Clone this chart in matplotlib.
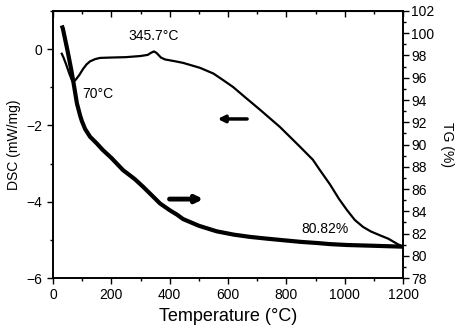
import numpy as np
import matplotlib
matplotlib.use('Agg')
import matplotlib.pyplot as plt
from matplotlib.ticker import MultipleLocator

plt.rcParams['font.family'] = ['Liberation Sans', 'DejaVu Sans']

# DSC curve (left axis)
dsc_t = [30, 36, 45, 55, 65, 70, 78, 90, 103, 115, 127, 145, 161, 200, 250, 300, 325,
         335, 346, 355, 370, 384, 420, 446, 504, 550, 583, 617, 660, 710, 778, 847,
         891, 915, 950, 980, 1008, 1035, 1063, 1090, 1121, 1150, 1179, 1200]
dsc_v = [-0.12, -0.22, -0.40, -0.62, -0.82, -0.86, -0.80, -0.68, -0.52, -0.40, -0.32,
         -0.26, -0.23, -0.22, -0.21, -0.18, -0.15, -0.10, -0.06, -0.10, -0.22, -0.27,
         -0.32, -0.36, -0.49, -0.64, -0.81, -0.99, -1.27, -1.59, -2.04, -2.56, -2.90,
         -3.17, -3.55, -3.92, -4.22, -4.48, -4.66, -4.78, -4.88, -4.97, -5.10, -5.18]

# TG curve (right axis)
tg_t = [30, 34, 50, 62, 70, 82, 93, 99, 110, 127, 150, 171, 200, 240, 280, 309, 340,
        367, 400, 425, 446, 500, 561, 620, 675, 730, 789, 850, 905, 950, 1008, 1100, 1200]
tg_v = [100.7, 100.4, 98.4, 96.8, 95.6, 93.7, 92.6, 92.1, 91.4, 90.7, 90.1, 89.5, 88.8,
        87.7, 86.9, 86.2, 85.4, 84.7, 84.1, 83.7, 83.3, 82.7, 82.2, 81.9, 81.7, 81.55,
        81.4, 81.25, 81.15, 81.05, 80.97, 80.9, 80.82]

fig = plt.figure(figsize=(4.67, 3.33), dpi=100)
ax = fig.add_axes([0.1135, 0.165, 0.7495, 0.802])
ax2 = ax.twinx()

ax.plot(dsc_t, dsc_v, color='black', lw=1.6)
ax2.plot(tg_t, tg_v, color='black', lw=3.0, solid_capstyle='butt')

ax.set_xlim(0, 1200)
ax.set_ylim(-6, 1)
ax2.set_ylim(78, 102)

ax.xaxis.set_major_locator(MultipleLocator(200))
ax.xaxis.set_minor_locator(MultipleLocator(100))
ax.yaxis.set_major_locator(MultipleLocator(2))
ax.yaxis.set_minor_locator(MultipleLocator(1))
ax2.yaxis.set_major_locator(MultipleLocator(2))
ax2.yaxis.set_minor_locator(MultipleLocator(1))

ax.tick_params(which='major', direction='out', length=4, width=1, labelsize=10)
ax.tick_params(which='minor', direction='out', length=2.5, width=1)
ax2.tick_params(which='major', direction='out', length=4, width=1, labelsize=10, pad=2)
ax2.tick_params(which='minor', direction='out', length=2.5, width=1)

top = ax.secondary_xaxis('top')
top.xaxis.set_major_locator(MultipleLocator(200))
top.xaxis.set_minor_locator(MultipleLocator(100))
top.tick_params(which='major', direction='in', length=4, width=1, labeltop=False)
top.tick_params(which='minor', direction='in', length=2.5, width=1)

for a in (ax, ax2):
    for s in a.spines.values():
        s.set_linewidth(1.2)

ax.set_xlabel('Temperature (°C)', fontsize=13, labelpad=4)
ax.set_ylabel('DSC (mW/mg)', fontsize=10, labelpad=4)
ax2.set_ylabel('TG (%)', fontsize=10, rotation=270, labelpad=14)

ax.text(345.7, 0.15, '345.7°C', fontsize=10, ha='center', va='bottom')
ax.text(100, -1.35, '70°C', fontsize=10, ha='left', va='bottom')
ax.text(850, -4.9, '80.82%', fontsize=10, ha='left', va='bottom')

ax.annotate('', xy=(555, -1.83), xytext=(675, -1.83),
            arrowprops=dict(arrowstyle='-|>', color='black', lw=2.5, mutation_scale=10))
ax.annotate('', xy=(525, -3.93), xytext=(390, -3.93),
            arrowprops=dict(arrowstyle='-|>', color='black', lw=3.5, mutation_scale=10))

fig.savefig('out.png', dpi=100)
